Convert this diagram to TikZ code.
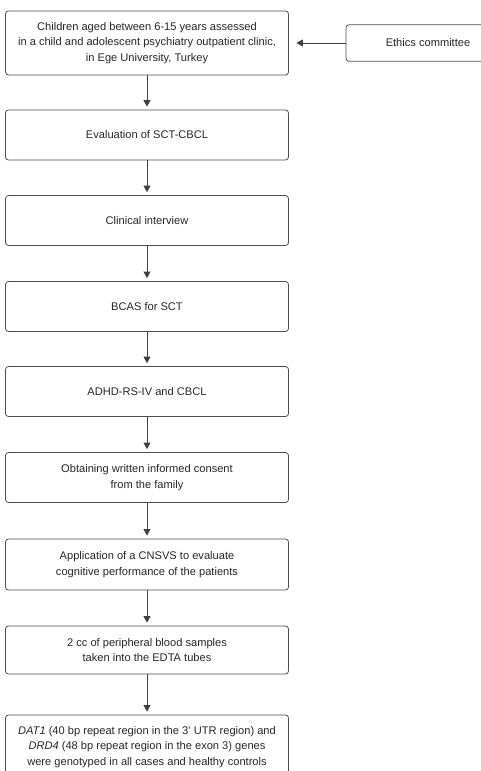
\documentclass[tikz,border=0pt]{standalone}
\usepackage{fontspec}
\setmainfont{Liberation Sans}
\usetikzlibrary{arrows.meta}

\begin{document}
\begin{tikzpicture}[x=1pt,y=-1pt,
  box/.style={draw=black!70, line width=0.8pt, rounded corners=3pt, align=center,
    minimum width=283pt, minimum height=50pt, inner sep=0pt,
    font=\fontsize{11.1}{15.6}\selectfont, text=black!85},
  flow/.style={draw=black!75, line width=0.8pt, -{Triangle[width=7pt,length=6.5pt]}, shorten >=3pt}]
\useasboundingbox (0,0) rectangle (481,771);
\clip (0,0) rectangle (481,771);
\node[box, minimum height=64pt] (children) at (147,43) {Children aged between 6-15 years assessed\\in a child and adolescent psychiatry outpatient clinic,\\in Ege University, Turkey};
\node[box, minimum width=164pt, minimum height=36.5pt] (ethics) at (428,43) {Ethics committee};
\node[box] (eval) at (147,135) {Evaluation of SCT-CBCL};
\node[box] (interview) at (147,220.5) {Clinical interview};
\node[box] (bcas) at (147,306.5) {BCAS for SCT};
\node[box] (adhd) at (147,391.5) {ADHD-RS-IV and CBCL};
\node[box] (consent) at (147,477.5) {Obtaining written informed consent\\from the family};
\node[box, minimum height=51pt] (cnsvs) at (147,564.5) {Application of a CNSVS to evaluate\\cognitive performance of the patients};
\node[box, minimum height=48pt] (blood) at (147,650) {2 cc of peripheral blood samples\\taken into the EDTA tubes};
\node[box, minimum height=64pt] (genes) at (147,747) {\textit{DAT1} (40 bp repeat region in the 3' UTR region) and\\\textit{DRD4} (48 bp repeat region in the exon 3) genes\\were genotyped in all cases and healthy controls};
% arrows
\draw[flow, shorten >=7.5pt] (ethics) -- (children);
\draw[flow] (children) -- (eval);
\draw[flow] (eval) -- (interview);
\draw[flow] (interview) -- (bcas);
\draw[flow] (bcas) -- (adhd);
\draw[flow] (adhd) -- (consent);
\draw[flow] (consent) -- (cnsvs);
\draw[flow] (cnsvs) -- (blood);
\draw[flow] (blood) -- (genes);
\end{tikzpicture}
\end{document}
